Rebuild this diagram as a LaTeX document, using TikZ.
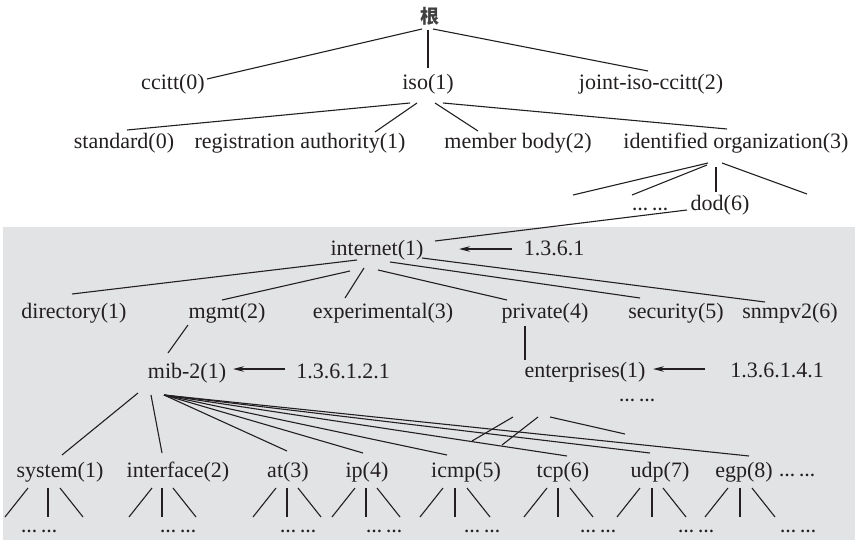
\documentclass[tikz,border=0pt]{standalone}
\usepackage{fontspec}
\setmainfont{Liberation Serif}
\newfontfamily\cjk{Noto Sans CJK SC}
\usetikzlibrary{calc,arrows.meta}
\definecolor{bggray}{HTML}{E2E3E5}
\definecolor{ink}{HTML}{231F20}
\newcommand\subtree[4]{%
  \draw[ln] ($(#1.base)+(#2,11)$) -- ($(#1.base)+(#2-23,40)$);
  \draw[ln] ($(#1.base)+(#3,11)$) -- ($(#1.base)+(#3,40)$);
  \draw[ln] ($(#1.base)+(#4,11)$) -- ($(#1.base)+(#4+23,40)$);}
\begin{document}
\begin{tikzpicture}[x=1pt,y=-1pt,
  lbl/.style={font=\fontsize{22}{26}\selectfont, inner sep=0pt, anchor=base, text=ink},
  dotsn/.style={font=\bfseries\fontsize{16}{18}\selectfont, inner sep=0pt, anchor=base, text=ink},
  ln/.style={line width=1.1pt, draw=ink},
  arr/.style={ln, -{Stealth[length=11pt,width=5.5pt]}}]
\useasboundingbox (0,0) rectangle (855,543);
\fill[bggray] (3,227) rectangle (855,540);
% nodes
\node[inner sep=0pt, text=black!75, font=\cjk\bfseries\fontsize{19}{20}\selectfont] (root) at (430,16) {根};
\node[lbl] (ccitt) at (173,90) {ccitt(0)};
\node[lbl] (iso) at (428,90) {iso(1)};
\node[lbl] (joint) at (651,90) {joint-iso-ccitt(2)};
\node[lbl] (std) at (124,148) {standard(0)};
\node[lbl] (reg) at (300,148) {registration authority(1)};
\node[lbl] (mem) at (518,148) {member body(2)};
\node[lbl] (ident) at (736,148) {identified organization(3)};
\node[dotsn] (dotsa) at (650,210) {… …};
\node[lbl] (dod) at (720,210) {dod(6)};
\node[lbl] (internet) at (377,255) {internet(1)};
\node[lbl] (oida) at (554,255) {1.3.6.1};
\node[lbl] (dir) at (74,318) {directory(1)};
\node[lbl] (mgmt) at (227,318) {mgmt(2)};
\node[lbl] (exper) at (383,318) {experimental(3)};
\node[lbl] (priv) at (545,318) {private(4)};
\node[lbl] (sec) at (676,318) {security(5)};
\node[lbl] (snmp) at (790,318) {snmpv2(6)};
\node[lbl] (mib) at (187,378) {mib-2(1)};
\node[lbl] (oidb) at (343,378) {1.3.6.1.2.1};
\node[lbl] (ent) at (585,377) {enterprises(1)};
\node[lbl] (oidc) at (777,377) {1.3.6.1.4.1};
\node[dotsn] (dotsb) at (637,401) {… …};
\node[lbl] (sys) at (60,477) {system(1)};
\node[lbl] (iface) at (178,477) {interface(2)};
\node[lbl] (atn) at (288,477) {at(3)};
\node[lbl] (ipn) at (367,477) {ip(4)};
\node[lbl] (icmp) at (466,477) {icmp(5)};
\node[lbl] (tcp) at (563,477) {tcp(6)};
\node[lbl] (udp) at (660,477) {udp(7)};
\node[lbl] (egp) at (744,477) {egp(8)};
\node[dotsn] (dotsc) at (797,476) {… …};
\node[dotsn] (lsys) at (39,532) {… …};
\node[dotsn] (liface) at (178,532) {… …};
\node[dotsn] (lat) at (298,532) {… …};
\node[dotsn] (lip) at (384,532) {… …};
\node[dotsn] (licmp) at (482,532) {… …};
\node[dotsn] (ltcp) at (598,532) {… …};
\node[dotsn] (ludp) at (696,532) {… …};
\node[dotsn] (legp) at (798,532) {… …};
\coordinate (ea) at (573,195);
\coordinate (eb) at (807,194);
\coordinate (ec) at (472,441);
\coordinate (ed) at (502,445);
\coordinate (ee) at (625,434);
% level 1
\draw[ln] ($(root.center)+(-8,13)$) -- ($(ccitt.base)+(34,-11)$);
\draw[ln] ($(root.center)+(-2,14)$) -- ($(iso.base)+(0,-22)$);
\draw[ln] ($(root.center)+(3,13)$) -- ($(joint.base)+(-3,-19)$);
% level 2
\draw[ln] ($(iso.base)+(-18,13)$) -- ($(std.base)+(3,-18)$);
\draw[ln] ($(iso.base)+(-11,13)$) -- ($(reg.base)+(75,-16)$);
\draw[ln] ($(iso.base)+(7,13)$) -- ($(mem.base)+(-40,-17)$);
\draw[ln] ($(iso.base)+(15,13)$) -- ($(ident.base)+(-9,-19)$);
% identified organization
\draw[ln] ($(ident.base)+(-28,15)$) -- (ea);
\draw[ln] ($(ident.base)+(-29,17)$) -- ($(dotsa.base)+(-18,-15)$);
\draw[ln] ($(ident.base)+(-20,19)$) -- ($(dod.base)+(-4,-18)$);
\draw[ln] ($(ident.base)+(-14,15)$) -- (eb);
% dod -> internet
\draw[ln] ($(dod.base)+(-33,0)$) -- ($(internet.base)+(58,-14)$);
\draw[arr] ($(oida.base)+(-42,-6)$) -- ($(internet.base)+(82,-6)$);
% internet children
\draw[ln] ($(internet.base)+(-20,5)$) -- ($(dir.base)+(-2,-24)$);
\draw[ln] ($(internet.base)+(-27,16)$) -- ($(mgmt.base)+(-5,-18)$);
\draw[ln] ($(internet.base)+(-13,13)$) -- ($(exper.base)+(-38,-20)$);
\draw[ln] ($(internet.base)+(1,15)$) -- ($(priv.base)+(-38,-18)$);
\draw[ln] ($(internet.base)+(13,7)$) -- ($(sec.base)+(-36,-20)$);
\draw[ln] ($(internet.base)+(45,3)$) -- ($(snmp.base)+(-25,-16)$);
% mgmt, private
\draw[ln] ($(mgmt.base)+(-39,7)$) -- ($(mib.base)+(-19,-25)$);
\draw[ln] ($(priv.base)+(-20,8)$) -- ($(ent.base)+(-60,-17)$);
\draw[arr] ($(oidb.base)+(-58,-9)$) -- ($(mib.base)+(46,-9)$);
\draw[arr] ($(oidc.base)+(-72,-8)$) -- ($(ent.base)+(68,-8)$);
% enterprises stubs
\draw[ln] ($(ent.base)+(-72,40)$) -- (ec);
\draw[ln] ($(ent.base)+(-47,40)$) -- (ed);
\draw[ln] ($(ent.base)+(-35,40)$) -- (ee);
% mib-2 children
\draw[ln] ($(mib.base)+(-49,15)$) -- ($(sys.base)+(2,-22)$);
\draw[ln] ($(mib.base)+(-36,17)$) -- ($(iface.base)+(-16,-24)$);
\draw[ln] ($(mib.base)+(-23,17)$) -- ($(atn.base)+(-1,-26)$);
\draw[ln] ($(mib.base)+(-23,17)$) -- ($(ipn.base)+(-4,-24)$);
\draw[ln] ($(mib.base)+(-23,17)$) -- ($(icmp.base)+(-19,-22)$);
\draw[ln] ($(mib.base)+(-23,17)$) -- ($(tcp.base)+(4,-21)$);
\draw[ln] ($(mib.base)+(-23,17)$) -- ($(udp.base)+(-10,-24)$);
\draw[ln] ($(mib.base)+(-23,17)$) -- ($(egp.base)+(5,-21)$);
% sub-branches
\subtree{sys}{-32}{-12}{0}
\subtree{iface}{-26}{-16}{-5}
\subtree{atn}{-12}{-1}{10}
\subtree{ipn}{-12}{-1}{10}
\subtree{icmp}{-23}{-11}{1}
\subtree{tcp}{-16}{-5}{7}
\subtree{udp}{-20}{-8}{3}
\subtree{egp}{-16}{-4}{8}
\end{tikzpicture}
\end{document}
